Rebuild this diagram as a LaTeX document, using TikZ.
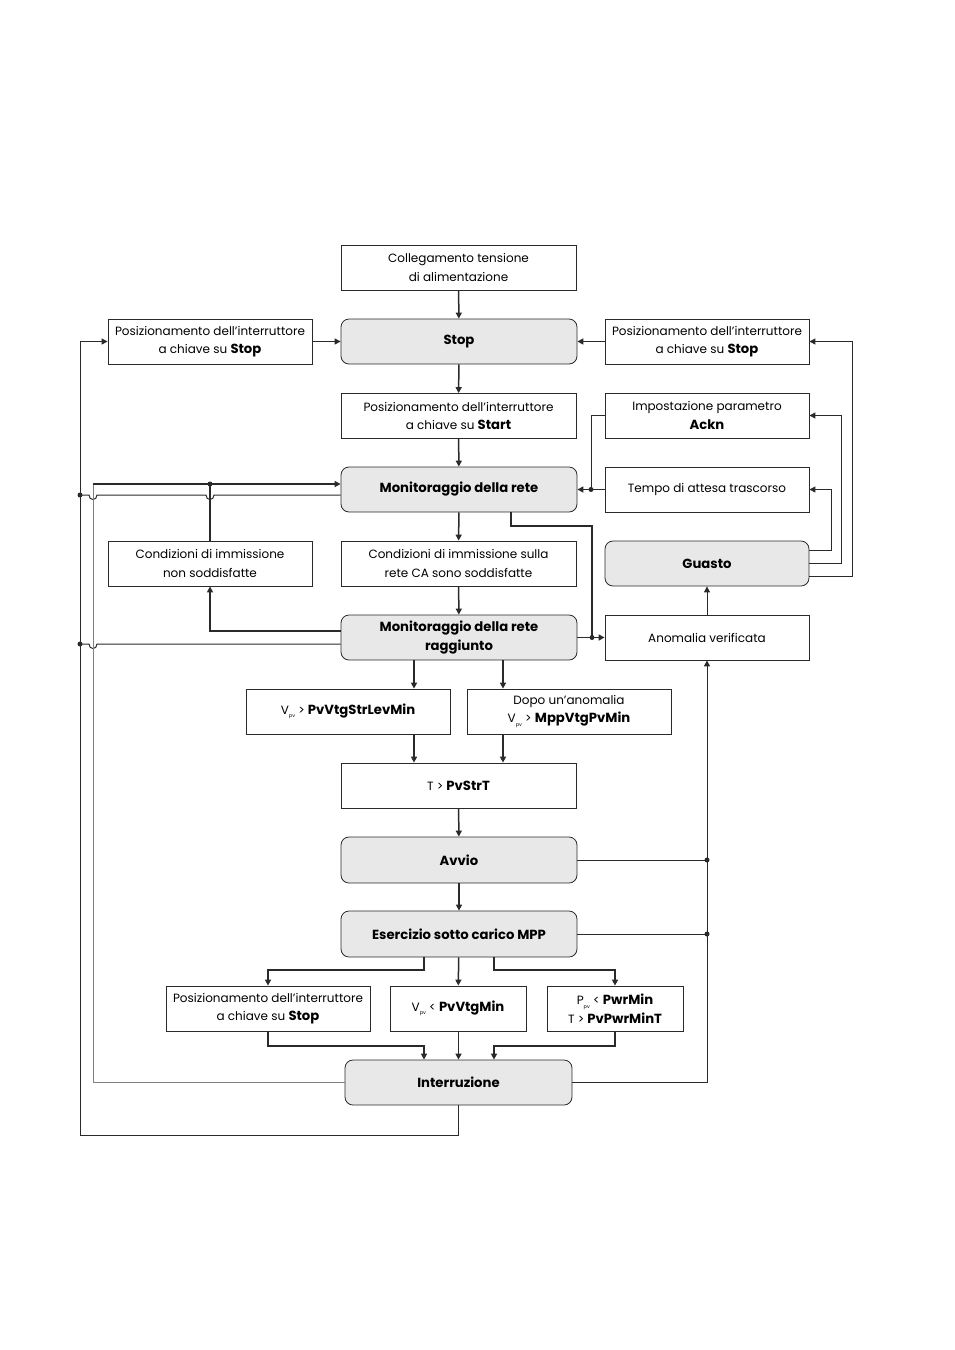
\documentclass[tikz,border=0pt]{standalone}
\usepackage{fontspec}
\setmainfont{Poppins}[BoldFeatures={Scale=1.1}]
\usepackage{tikz}
\usetikzlibrary{arrows.meta}

\definecolor{boxgray}{HTML}{E8E8E8}
\definecolor{linegray}{HTML}{2A2A2A}
\newcommand{\pv}{\raisebox{-0.55ex}{\fontsize{5pt}{5pt}\selectfont pv}}

\begin{document}
\begin{tikzpicture}[x=1pt,y=-1pt,
    font=\fontsize{12pt}{18.5pt}\selectfont,
    box/.style={draw=linegray, line width=0.8pt, align=center, inner sep=2pt, minimum height=45pt},
    state/.style={box, fill=boxgray, rounded corners=8pt, font=\fontsize{12pt}{18.5pt}\selectfont\bfseries},
    flow/.style={line width=1.5pt, draw=linegray},
    link/.style={line width=1pt, draw=linegray},
    arr/.style={-{Triangle[length=6pt,width=6pt]}},
    dot/.style={circle, fill=linegray, inner sep=0pt, minimum size=5pt}]
    \useasboundingbox (0,0) rectangle (954,1350);

    % Nodes of the main column
    \node[box, minimum width=235pt] (coll) at (458.5,267.5) {Collegamento tensione\\di alimentazione};
    \node[state, minimum width=236pt] (stop) at (459,341.5) {Stop};
    \node[box, minimum width=235pt] (start) at (458.5,416) {Posizionamento dell’interruttore\\a chiave su \textbf{Start}};
    \node[state, minimum width=236pt] (mon) at (459,489.5) {Monitoraggio della rete};
    \node[box, minimum width=235pt] (ok) at (458.5,563.5) {Condizioni di immissione sulla\\rete CA sono soddisfatte};
    \node[state, minimum width=236pt] (monr) at (459,637.5) {Monitoraggio della rete\\raggiunto};
    \node[box, minimum width=204pt] (vstr) at (348,711.5) {V\pv{} > \textbf{PvVtgStrLevMin}};
    \node[box, minimum width=204pt] (dopo) at (569,711.5) {Dopo un’anomalia\\V\pv{} > \textbf{MppVtgPvMin}};
    \node[box, minimum width=235pt] (strt) at (458.5,785.5) {T > \textbf{PvStrT}};
    \node[state, minimum width=236pt, minimum height=46pt] (avvio) at (459,860) {Avvio};
    \node[state, minimum width=236pt, minimum height=46pt] (mpp) at (459,934) {Esercizio sotto carico MPP};
    \node[box, minimum width=204pt] (keyB) at (268,1008.5) {Posizionamento dell’interruttore\\a chiave su \textbf{Stop}};
    \node[box, minimum width=136pt] (vmin) at (458,1008.5) {V\pv{} < \textbf{PvVtgMin}};
    \node[box, minimum width=136pt] (pmin) at (615,1008.5) {P\pv{} < \textbf{PwrMin}\\T > \textbf{PvPwrMinT}};
    \node[state, minimum width=227pt] (intr) at (458.5,1082.5) {Interruzione};

    % Side nodes
    \node[box, minimum width=204pt] (keyL) at (210,341.5) {Posizionamento dell’interruttore\\a chiave su \textbf{Stop}};
    \node[box, minimum width=204pt] (keyR) at (707,341.5) {Posizionamento dell’interruttore\\a chiave su \textbf{Stop}};
    \node[box, minimum width=204pt] (ackn) at (707,415.5) {Impostazione parametro\\\textbf{Ackn}};
    \node[box, minimum width=204pt] (tempo) at (707,489.5) {Tempo di attesa trascorso};
    \node[box, minimum width=204pt] (nonok) at (210,563.5) {Condizioni di immissione\\non soddisfatte};
    \node[state, minimum width=204pt] (guasto) at (707,563.5) {Guasto};
    \node[box, minimum width=204pt] (anom) at (707,637.5) {Anomalia verificata};

    % Main flow
    \draw[flow,arr] (coll) -- (stop);
    \draw[flow,arr] (stop) -- (start);
    \draw[flow,arr] (start) -- (mon);
    \draw[flow,arr] (mon) -- (ok);
    \draw[flow,arr] (ok) -- (monr);
    \draw[flow,arr] (monr.south -| 414,0) -- (vstr.north -| 414,0);
    \draw[flow,arr] (monr.south -| 503,0) -- (dopo.north -| 503,0);
    \draw[flow,arr] (vstr.south -| 414,0) -- (strt.north -| 414,0);
    \draw[flow,arr] (dopo.south -| 503,0) -- (strt.north -| 503,0);
    \draw[flow,arr] (strt) -- (avvio);
    \draw[flow,arr] (avvio) -- (mpp);
    \draw[flow,arr] (mpp.south -| 424,0) -- (424,970) -| (keyB.north);
    \draw[flow,arr] (mpp) -- (vmin);
    \draw[flow,arr] (mpp.south -| 494,0) -- (494,970) -| (pmin.north);
    \draw[flow,arr] (keyB.south) |- (424,1046) -- (intr.north -| 424,0);
    \draw[flow,arr] (vmin.south -| intr.north) -- (intr.north);
    \draw[flow,arr] (pmin.south) |- (494,1046) -- (intr.north -| 494,0);

    % Left side
    \draw[link,arr] (keyL) -- (stop);
    \draw[link,arr] (intr.south) |- (80,1135) |- (keyL.west);
    \draw[link] (mon.west |- 0,495) -- (214,495) .. controls (214,501) and (206,501) .. (206,495)
        -- (97,495) .. controls (97,501) and (89,501) .. (89,495) -- (80,495);
    \draw[link] (monr.west |- 0,644) -- (97,644) .. controls (97,650) and (89,650) .. (89,644) -- (80,644);
    \node[dot] (d1) at (80,495) {};
    \node[dot] (d2) at (80,644) {};
    \draw[link, draw=gray] (intr.west) -| (93,484);
    \draw[flow,arr] (93,484) -- (mon.west |- 0,484);
    \draw[flow] (nonok.north) -- (nonok.north |- 0,484);
    \node[dot] (d3) at (210,484) {};
    \draw[flow,arr] (monr.west |- 0,631) -| (nonok.south);

    % Right side
    \draw[flow,arr] (keyR) -- (stop);
    \draw[link,arr] (guasto.east |- 0,550) -- (831,550) |- (tempo.east);
    \draw[link,arr] (guasto.east |- 0,563) -- (841,563) |- (ackn.east);
    \draw[link,arr] (guasto.east |- 0,576) -- (852,576) |- (keyR.east);
    \draw[link] (ackn.west) -| (591,489.5);
    \draw[flow,arr] (tempo) -- (mon);
    \node[dot] (d4) at (591,489.5) {};
    \draw[flow] (mon.south -| 511,0) |- (592,526) -- (592,637.5);
    \draw[flow,arr] (monr) -- (anom);
    \node[dot] (d5) at (592,637.5) {};
    \draw[link,arr] (anom) -- (guasto);
    \draw[link,arr] (intr.east) -| (anom.south);
    \draw[link] (avvio.east) -- (avvio.east -| anom.south);
    \draw[link] (mpp.east) -- (mpp.east -| anom.south);
    \node[dot] (d6) at (avvio.east -| anom.south) {};
    \node[dot] (d7) at (mpp.east -| anom.south) {};
\end{tikzpicture}
\end{document}
